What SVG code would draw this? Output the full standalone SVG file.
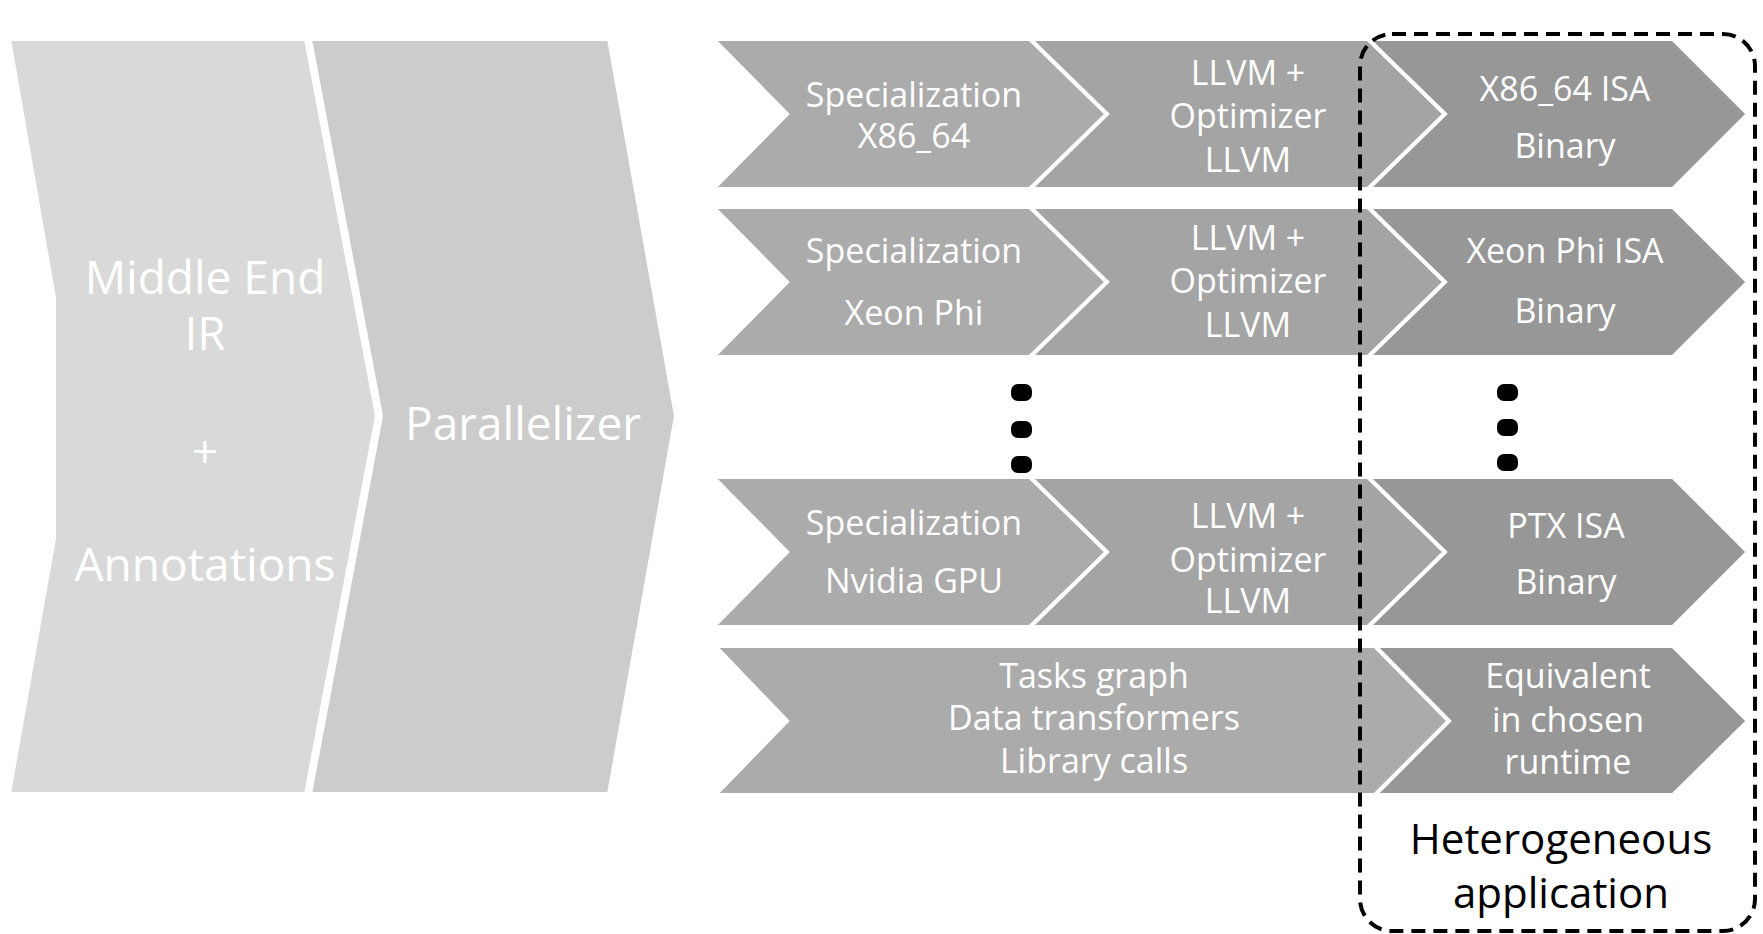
<svg xmlns="http://www.w3.org/2000/svg" width="1763" height="934" viewBox="0 0 1763 934">
<style>
.seg{stroke:#FFFFFF;stroke-width:4;stroke-linejoin:miter}
.s1{fill:#ABABAB}.s2{fill:#A4A4A4}.s3{fill:#979797}
.big1{fill:#D9D9D9}.big2{fill:#CCCCCC}
text{font-family:"Open Sans","Liberation Sans",sans-serif;fill:#FFFFFF;text-anchor:middle}
.lg{font-size:46px}.md{font-size:34px}
.blk{fill:#000000;font-size:42px}
.dot{fill:#000000}
</style>
<rect width="1763" height="934" fill="#FFFFFF"/>
<g id="middle-end">
<polygon class="seg big1" points="9,39 306,39 377,416 306,794 9,794 54,538 54,298"/>
<text class="lg" x="205" y="294">Middle End</text>
<text class="lg" x="205" y="350">IR</text>
<text class="lg" x="205" y="468">+</text>
<text class="lg" x="205" y="581">Annotations</text>
</g>
<g id="parallelizer">
<polygon class="seg big2" points="310,39 609,39 676,416 609,794 310,794 381,416"/>
<text class="lg" x="523" y="440">Parallelizer</text>
</g>
<g id="row1-spec">
<polygon class="seg s1" points="713,39 1030,39 1107,114 1030,189 713,189 787,114"/>
<text class="md" x="914" y="107">Specialization</text>
<text class="md" x="914" y="148">X86_64</text>
</g>
<g id="row1-llvm">
<polygon class="seg s2" points="1030,39 1368,39 1445,114 1368,189 1030,189 1107,114"/>
<text class="md" x="1248" y="85">LLVM +</text>
<text class="md" x="1248" y="128">Optimizer</text>
<text class="md" x="1248" y="172">LLVM</text>
</g>
<g id="row1-bin">
<polygon class="seg s3" points="1368,39 1673,39 1748,114 1673,189 1368,189 1445,114"/>
<text class="md" x="1565" y="101">X86_64 ISA</text>
<text class="md" x="1565" y="158">Binary</text>
</g>
<g id="row2-spec">
<polygon class="seg s1" points="713,207 1030,207 1107,282 1030,357 713,357 787,282"/>
<text class="md" x="914" y="263">Specialization</text>
<text class="md" x="914" y="325">Xeon Phi</text>
</g>
<g id="row2-llvm">
<polygon class="seg s2" points="1030,207 1368,207 1445,282 1368,357 1030,357 1107,282"/>
<text class="md" x="1248" y="250">LLVM +</text>
<text class="md" x="1248" y="293">Optimizer</text>
<text class="md" x="1248" y="337">LLVM</text>
</g>
<g id="row2-bin">
<polygon class="seg s3" points="1368,207 1673,207 1748,282 1673,357 1368,357 1445,282"/>
<text class="md" x="1565" y="263">Xeon Phi ISA</text>
<text class="md" x="1565" y="323">Binary</text>
</g>
<g id="ellipsis">
<rect class="dot" x="1011" y="384" width="21" height="17" rx="7"/>
<rect class="dot" x="1011" y="421" width="21" height="17" rx="7"/>
<rect class="dot" x="1011" y="456" width="21" height="17" rx="7"/>
<rect class="dot" x="1497" y="384" width="21" height="17" rx="7"/>
<rect class="dot" x="1497" y="419" width="21" height="17" rx="7"/>
<rect class="dot" x="1497" y="454" width="21" height="17" rx="7"/>
</g>
<g id="row3-spec">
<polygon class="seg s1" points="713,477 1030,477 1107,552 1030,627 713,627 787,552"/>
<text class="md" x="914" y="535">Specialization</text>
<text class="md" x="914" y="593">Nvidia GPU</text>
</g>
<g id="row3-llvm">
<polygon class="seg s2" points="1030,477 1368,477 1445,552 1368,627 1030,627 1107,552"/>
<text class="md" x="1248" y="528">LLVM +</text>
<text class="md" x="1248" y="572">Optimizer</text>
<text class="md" x="1248" y="613">LLVM</text>
</g>
<g id="row3-bin">
<polygon class="seg s3" points="1368,477 1673,477 1748,552 1673,627 1368,627 1445,552"/>
<text class="md" x="1566" y="538">PTX ISA</text>
<text class="md" x="1566" y="594">Binary</text>
</g>
<g id="row4-tasks">
<polygon class="seg s1" points="715,646 1375,646 1449,721 1375,795 715,795 787,721"/>
<text class="md" x="1094" y="688">Tasks graph</text>
<text class="md" x="1094" y="730">Data transformers</text>
<text class="md" x="1094" y="773">Library calls</text>
</g>
<g id="row4-runtime">
<polygon class="seg s3" points="1375,646 1673,646 1748,721 1673,795 1375,795 1449,721"/>
<text class="md" x="1568" y="688">Equivalent</text>
<text class="md" x="1568" y="732">in chosen</text>
<text class="md" x="1568" y="774">runtime</text>
</g>
<g id="heterogeneous-app">
<rect x="1360" y="34" width="395" height="897" rx="32" fill="none" stroke="#000000" stroke-width="4" stroke-dasharray="14 8"/>
<text class="blk" x="1561" y="854">Heterogeneous</text>
<text class="blk" x="1561" y="908">application</text>
</g>
<g id="connectors"></g>
</svg>
